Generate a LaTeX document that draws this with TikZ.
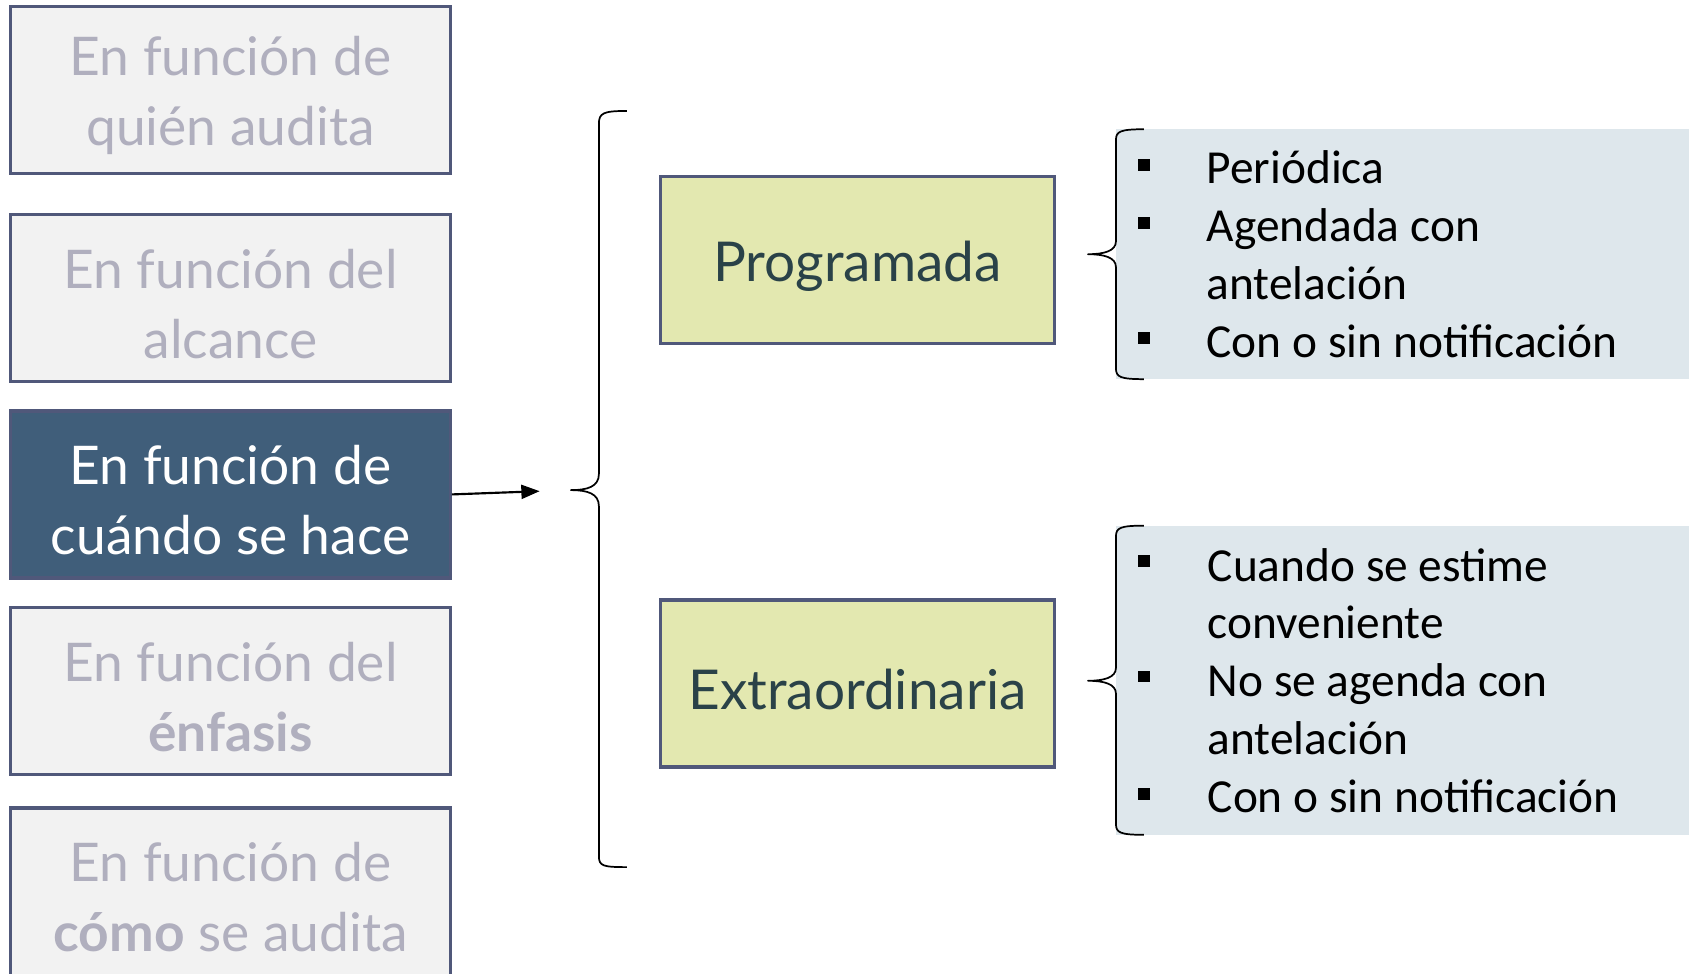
\documentclass[tikz,border=0pt]{standalone}
\usepackage{fontspec}
\setmainfont{Lato}
\newfontfamily\calfont{Carlito}
\usetikzlibrary{arrows.meta}
\definecolor{boxline}{RGB}{80,88,122}
\definecolor{boxfill}{RGB}{242,242,242}
\definecolor{greytxt}{RGB}{176,175,190}
\definecolor{darkfill}{RGB}{64,94,122}
\definecolor{yfill}{RGB}{227,232,176}
\definecolor{ytxt}{RGB}{42,66,72}
\definecolor{panel}{RGB}{222,231,236}
\begin{document}
\begin{tikzpicture}[x=1pt,y=-1pt,
  leftbox/.style={draw=boxline,line width=3pt,fill=boxfill,minimum width=408pt,minimum height=155pt,inner sep=0pt},
  activebox/.style={leftbox,fill=darkfill},
  lefttxt/.style={text=greytxt,align=center,inner sep=0pt,font=\fontsize{49.5}{65}\selectfont},
  activetxt/.style={lefttxt,text=white},
  midbox/.style={draw=boxline,line width=3pt,fill=yfill,minimum width=366pt,minimum height=155pt,inner sep=0pt},
  midtxt/.style={text=ytxt,inner sep=0pt,font=\fontsize{51}{65}\selectfont},
  panelbox/.style={fill=panel,inner sep=0pt,anchor=north west},
  itemtxt/.style={anchor=base west,inner sep=0pt,font=\calfont\fontsize{44}{54}\selectfont},
  bul/.style={fill=black,inner sep=0pt,minimum size=11pt},
  bracepath/.style={line width=1.6pt,line join=round}
]
\useasboundingbox (0,0) rectangle (1568,904);

% left column
\node[leftbox] (q1) at (214,83.5) {};
\node[leftbox] (q2) at (214,276.5) {};
\node[activebox] (q3) at (214,459) {};
\node[leftbox] (q4) at (214,641.5) {};
\node[leftbox,minimum height=175pt] (q5) at (214,837.5) {};
\node[lefttxt] (q1t) at (214,89) {En función de\\quién audita};
\node[lefttxt] (q2t) at (214,282) {En función del\\alcance};
\node[activetxt] (q3t) at (214,464) {En función de\\cuándo se hace};
\node[lefttxt] (q4t) at (214,647) {En función del\\\textbf{énfasis}};
\node[lefttxt] (q5t) at (214,833) {En función de\\\textbf{cómo} se audita};

% big brace
\coordinate (bt) at (582,103);
\coordinate (bb) at (582,805);
\coordinate (btip) at (530,455);
\coordinate (aend) at (501,456);
\draw[-{Triangle[length=17pt,width=13pt]},line width=2pt] (q3.east) -- (aend);
\draw[bracepath] (bt) .. controls (560,103) and (556,105) .. (556,115) -- (556,440)
  .. controls (556,452) and (545,455) .. (btip)
  .. controls (545,455) and (556,458) .. (556,470) -- (556,795)
  .. controls (556,804) and (560,805) .. (bb);

% middle boxes
\node[midbox] (p) at (796,241.5) {};
\node[midbox] (e) at (796,634.5) {};
\node[midtxt] (pt) at (796,247) {Programada};
\node[midtxt] (et) at (796,640) {Extraordinaria};

% panels
\node[panelbox,minimum width=532pt,minimum height=232pt] (pa) at (1036,120) {};
\node[panelbox,minimum width=532pt,minimum height=287pt] (pb) at (1036,488) {};

% right brace 1
\coordinate (r1t) at (1062,120);
\coordinate (r1b) at (1062,352);
\coordinate (r1tip) at (1010,236);
\draw[bracepath] (r1t) .. controls (1040,120) and (1036,122) .. (1036,130) -- (1036,224)
  .. controls (1036,233) and (1025,236) .. (r1tip)
  .. controls (1025,236) and (1036,239) .. (1036,248) -- (1036,342)
  .. controls (1036,350) and (1040,352) .. (r1b);

% right brace 2
\coordinate (r2t) at (1062,488);
\coordinate (r2b) at (1062,775);
\coordinate (r2tip) at (1010,632);
\draw[bracepath] (r2t) .. controls (1040,488) and (1036,490) .. (1036,498) -- (1036,620)
  .. controls (1036,629) and (1025,632) .. (r2tip)
  .. controls (1025,632) and (1036,635) .. (1036,644) -- (1036,765)
  .. controls (1036,773) and (1040,775) .. (r2b);

% items panel 1
\node[bul] (b1) at (1062,153) {};
\node[bul] (b2) at (1062,207) {};
\node[bul] (b3) at (1062,314) {};
\node[itemtxt] (t1) at (1120,170) {Periódica};
\node[itemtxt] (t2) at (1120,224) {Agendada con};
\node[itemtxt] (t3) at (1120,278) {antelación};
\node[itemtxt] (t4) at (1120,332) {Con o sin notificación};

% items panel 2
\node[bul] (b4) at (1062,521) {};
\node[bul] (b5) at (1062,628) {};
\node[bul] (b6) at (1062,737) {};
\node[itemtxt] (t5) at (1121,540) {Cuando se estime};
\node[itemtxt] (t6) at (1121,593) {conveniente};
\node[itemtxt] (t7) at (1121,647) {No se agenda con};
\node[itemtxt] (t8) at (1121,700) {antelación};
\node[itemtxt] (t9) at (1121,754) {Con o sin notificación};
\end{tikzpicture}
\end{document}
